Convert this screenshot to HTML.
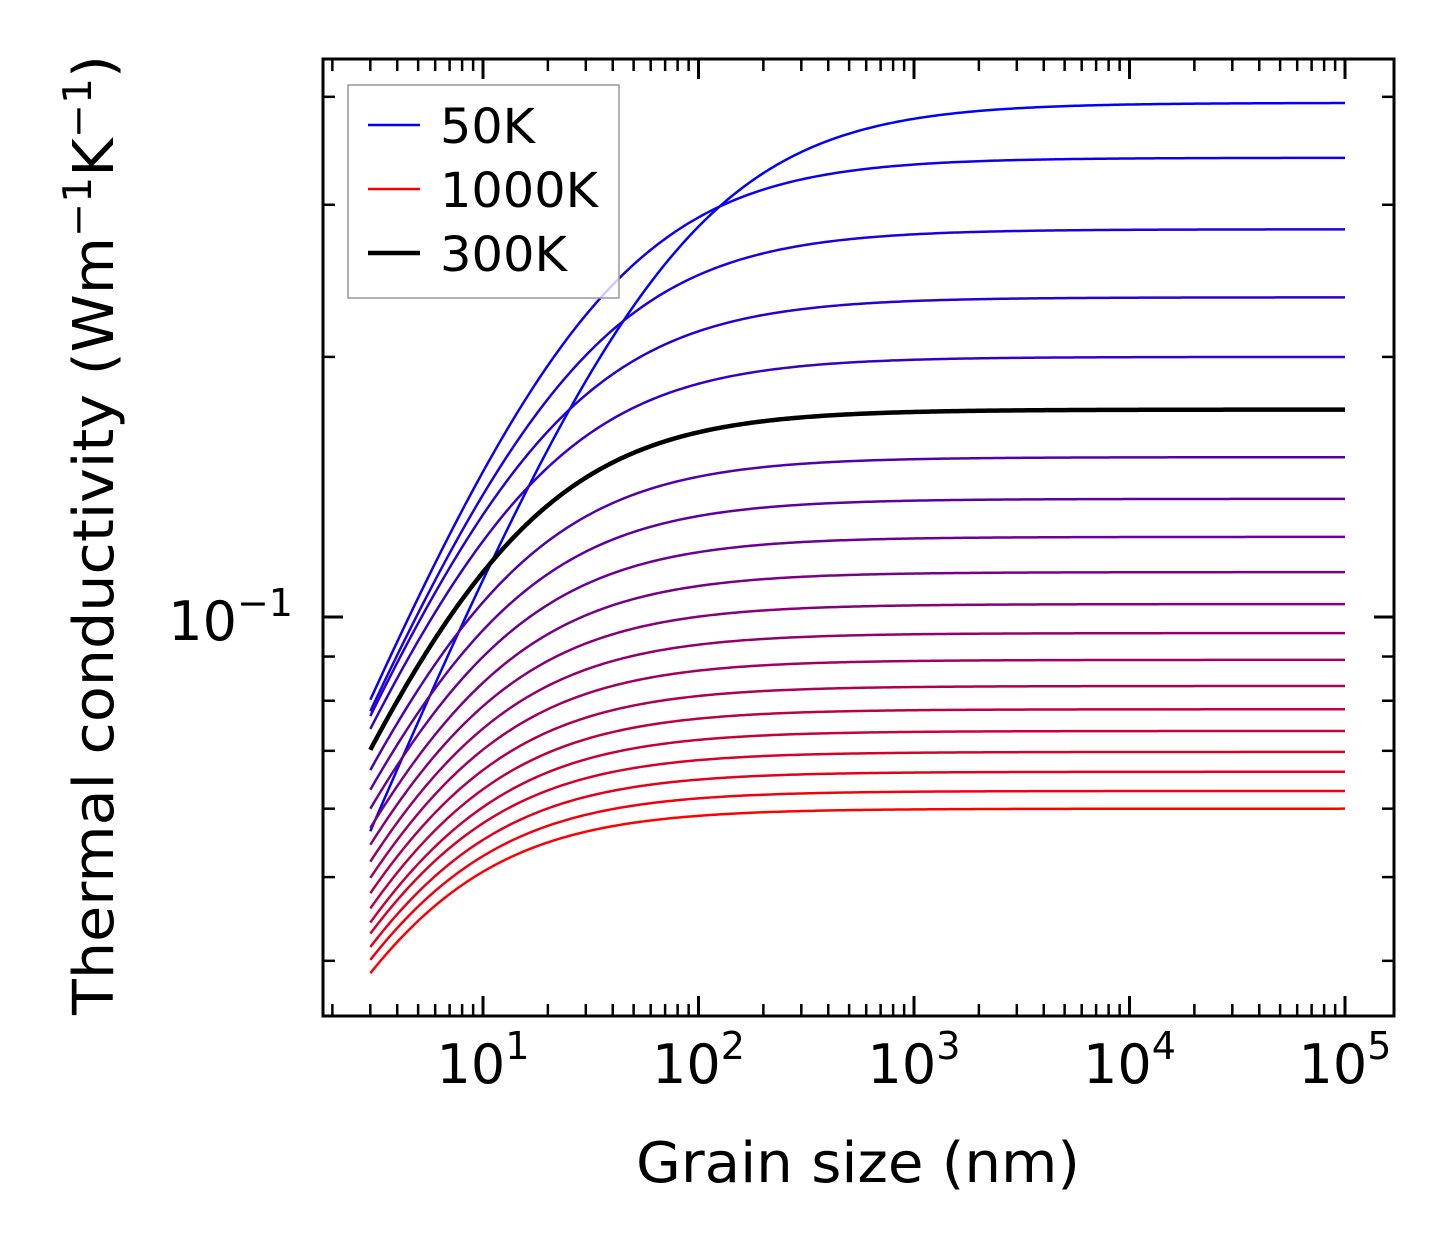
<!DOCTYPE html>
<html><head><meta charset="utf-8"><style>
body{margin:0;background:#fff}
svg{display:block;font-family:"DejaVu Sans","Liberation Sans",sans-serif}
</style></head><body>
<svg id="chart" width="1454" height="1254" viewBox="0 0 1454 1254" xmlns="http://www.w3.org/2000/svg">
<rect width="1454" height="1254" fill="#fff"/>
<g id="curves"></g>
<g id="ticks"></g>
<rect x="323" y="59" width="1071" height="957" fill="none" stroke="#000" stroke-width="3"/>
<text x="293" y="640" text-anchor="end" font-size="54">10<tspan dy="-24" font-size="38">−1</tspan></text>
<g id="xlabels"></g>
<text x="858" y="1182" text-anchor="middle" font-size="56" textLength="444" lengthAdjust="spacingAndGlyphs">Grain size (nm)</text>
<text transform="translate(113,535) rotate(-90)" text-anchor="middle" font-size="56" textLength="960" lengthAdjust="spacingAndGlyphs">Thermal conductivity (Wm<tspan dy="-22" font-size="39">−1</tspan><tspan dy="22">K</tspan><tspan dy="-22" font-size="39">−1</tspan><tspan dy="22">)</tspan></text>
<g>
<rect x="348" y="85" width="271" height="213" fill="#fff" fill-opacity="0.8" stroke="#999" stroke-width="1.5"/>
<line x1="368" y1="125" x2="420" y2="125" stroke="#0000ff" stroke-width="2.5"/>
<text x="440" y="143" font-size="48" textLength="95" lengthAdjust="spacingAndGlyphs">50K</text>
<line x1="368" y1="189" x2="420" y2="189" stroke="#ff0000" stroke-width="2.5"/>
<text x="440" y="207" font-size="48" textLength="158" lengthAdjust="spacingAndGlyphs">1000K</text>
<line x1="368" y1="253" x2="420" y2="253" stroke="#000" stroke-width="4.5"/>
<text x="440" y="271" font-size="48" textLength="127" lengthAdjust="spacingAndGlyphs">300K</text>
</g>
</svg>
<script>
const temps=[50,100,150,200,250,300,350,400,450,500,550,600,650,700,750,800,850,900,950,1000];
const kInf=[0.3936,0.340,0.281,0.2344,0.200,0.1738,0.1531,0.1370,0.1238,0.1127,0.1035,0.0958,0.0892,0.0832,0.0782,0.0738,0.0698,0.0662,0.0629,0.0600];
const kAt3nm=[0.0565,0.0802,0.0778,0.0768,0.0742,0.0702,0.0665,0.0631,0.0600,0.0570,0.0545,0.0521,0.0499,0.0479,0.0460,0.0443,0.0430,0.0415,0.0401,0.0387];
const xTickExps=[1,2,3,4,5];
const LMIN=3, LMAX=1e5, EXPO=0.6;
const NS="http://www.w3.org/2000/svg";
function X(v){return 483+(Math.log10(v)-1)*215.5;}
function Y(v){return 617-(Math.log10(v)+1)*864;}
const curves=document.getElementById('curves');
let blackPath=null;
temps.forEach((t,i)=>{
  const r=kAt3nm[i]/kInf[i];
  const lam=LMIN*(Math.pow(r,-1/EXPO)-1);
  let d='';
  for(let j=0;j<=300;j++){
    const L=Math.pow(10,Math.log10(LMIN)+j/300*(Math.log10(LMAX)-Math.log10(LMIN)));
    const k=kInf[i]*Math.pow(1+lam/L,-EXPO);
    d+=(j?'L':'M')+X(L).toFixed(2)+','+Y(k).toFixed(2);
  }
  const f=(t-50)/950;
  const col=t===300?'#000':`rgb(${Math.round(255*f)},0,${Math.round(255*(1-f))})`;
  const p=document.createElementNS(NS,'path');
  p.setAttribute('d',d);p.setAttribute('fill','none');p.setAttribute('stroke',col);
  p.setAttribute('stroke-width',t===300?4.5:2.5);
  
  
  if(t===300)blackPath=p;else curves.appendChild(p);
});
curves.appendChild(blackPath);
const ticks=document.getElementById('ticks');
function tk(x1,y1,x2,y2,w){const l=document.createElementNS(NS,'line');l.setAttribute('x1',x1);l.setAttribute('y1',y1);l.setAttribute('x2',x2);l.setAttribute('y2',y2);l.setAttribute('stroke','#000');l.setAttribute('stroke-width',w);


ticks.appendChild(l);}
for(let e=0;e<=5;e++)for(let m=1;m<10;m++){
  const v=m*Math.pow(10,e);const x=X(v);if(x<324||x>1393)continue;
  const len=m===1?20:12,w=m===1?3:2.5;
  tk(x,1016,x,1016-len,w);tk(x,59,x,59+len,w);
}
for(let e=-2;e<=0;e++)for(let m=1;m<10;m++){
  const v=m*Math.pow(10,e);const y=Y(v);if(y<60||y>1015)continue;
  const len=m===1?20:12,w=m===1?3:2.5;
  tk(323,y,323+len,y,w);tk(1394,y,1394-len,y,w);
}
const xl=document.getElementById('xlabels');
xTickExps.forEach(e=>{
  const t=document.createElementNS(NS,'text');
  t.setAttribute('x',X(Math.pow(10,e)));t.setAttribute('y',1083);
  t.setAttribute('text-anchor','middle');t.setAttribute('font-size','54');
  
  
  t.innerHTML='10<tspan dy="-24" font-size="38">'+e+'</tspan>';
  xl.appendChild(t);
});
</script>
</body></html>
